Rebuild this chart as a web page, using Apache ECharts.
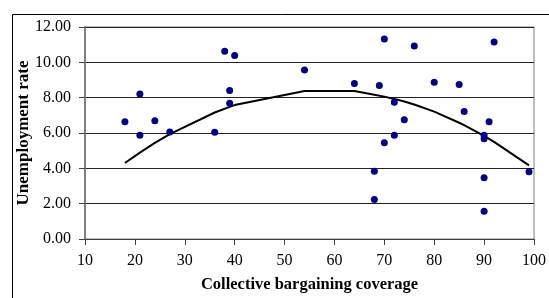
<!DOCTYPE html>
<html>
<head>
<meta charset="utf-8">
<script src="https://cdn.jsdelivr.net/npm/echarts@6/dist/echarts.min.js"></script>
<style>
  html, body { margin: 0; padding: 0; background: #fff; }
  #main { width: 549px; height: 298px; }
</style>
</head>
<body>
<div id="main"></div>
<script>
// scatter points: collective bargaining coverage vs unemployment rate
const coverage = [18, 21, 21, 24, 27, 36, 38, 39, 39, 40, 54, 64, 68, 68, 69, 70, 70, 72, 72, 74, 76, 80, 85, 86, 90, 90, 90, 90, 91, 92, 99];
const unemployment = [6.64, 8.21, 5.87, 6.69, 6.05, 6.04, 10.63, 8.40, 7.68, 10.39, 9.56, 8.80, 3.84, 2.23, 8.69, 11.32, 5.45, 7.74, 5.87, 6.75, 10.92, 8.87, 8.74, 7.22, 5.87, 5.68, 3.47, 1.57, 6.64, 11.15, 3.80];

// trend curve
const trendX = [18, 21, 24, 27, 36, 39, 40, 54, 64, 68, 70, 72, 74, 76, 80, 85, 86, 90, 91, 92, 99];
const trendY = [4.30, 4.89, 5.44, 5.94, 7.16, 7.48, 7.58, 8.38, 8.38, 8.17, 8.06, 7.93, 7.78, 7.61, 7.21, 6.58, 6.44, 5.84, 5.67, 5.50, 4.17];

const xTitle = 'Collective bargaining coverage';
const yTitle = 'Unemployment rate';

function loadChart() {
    var chartDom = document.getElementById('main');
    var myChart = echarts.init(chartDom);
    var font = '"Liberation Serif", "Times New Roman", serif';

    var option = {
        animation: false,
        graphic: [
            {
                type: 'rect',
                left: 10, top: 12,
                shape: { width: 580, height: 320 },
                style: { fill: 'none', stroke: '#000', lineWidth: 1 },
                silent: true
            }
        ],
        grid: {
            left: 85, top: 27, right: 13, bottom: 52,
            show: true,
            borderColor: '#808080',
            borderWidth: 1
        },
        xAxis: {
            type: 'value',
            min: 10, max: 100, interval: 10,
            name: xTitle,
            nameLocation: 'middle',
            nameGap: 37,
            nameMoveOverlap: false,
            nameTextStyle: { fontFamily: font, fontSize: 16.5, fontWeight: 'bold', color: '#000' },
            axisLine: { lineStyle: { color: '#404040', width: 1 } },
            axisTick: { show: true, length: 6, lineStyle: { color: '#404040' } },
            axisLabel: { fontFamily: font, fontSize: 16, color: '#000', margin: 14 },
            splitLine: { show: false }
        },
        yAxis: {
            type: 'value',
            min: 0, max: 12, interval: 2,
            name: yTitle,
            nameLocation: 'middle',
            nameGap: 53,
            nameMoveOverlap: false,
            nameTextStyle: { fontFamily: font, fontSize: 17, fontWeight: 'bold', color: '#000' },
            axisLine: { show: true, lineStyle: { color: '#808080', width: 2 } },
            axisTick: { show: true, length: 6, lineStyle: { color: '#404040' } },
            axisLabel: {
                fontFamily: font, fontSize: 16, color: '#000', margin: 14,
                formatter: v => v.toFixed(2)
            },
            splitLine: { show: true, lineStyle: { color: '#222', width: 1 } }
        },
        series: [
            {
                type: 'line',
                data: trendX.map((x, i) => [x, trendY[i]]),
                showSymbol: false,
                lineStyle: { color: '#000', width: 2 },
                z: 2
            },
            {
                type: 'scatter',
                data: coverage.map((x, i) => [x, unemployment[i]]),
                symbolSize: 7,
                itemStyle: { color: '#000080', opacity: 1 },
                z: 3
            }
        ]
    };

    myChart.setOption(option);
}

document.addEventListener('DOMContentLoaded', () => {
    loadChart();
});
</script>
</body>
</html>
